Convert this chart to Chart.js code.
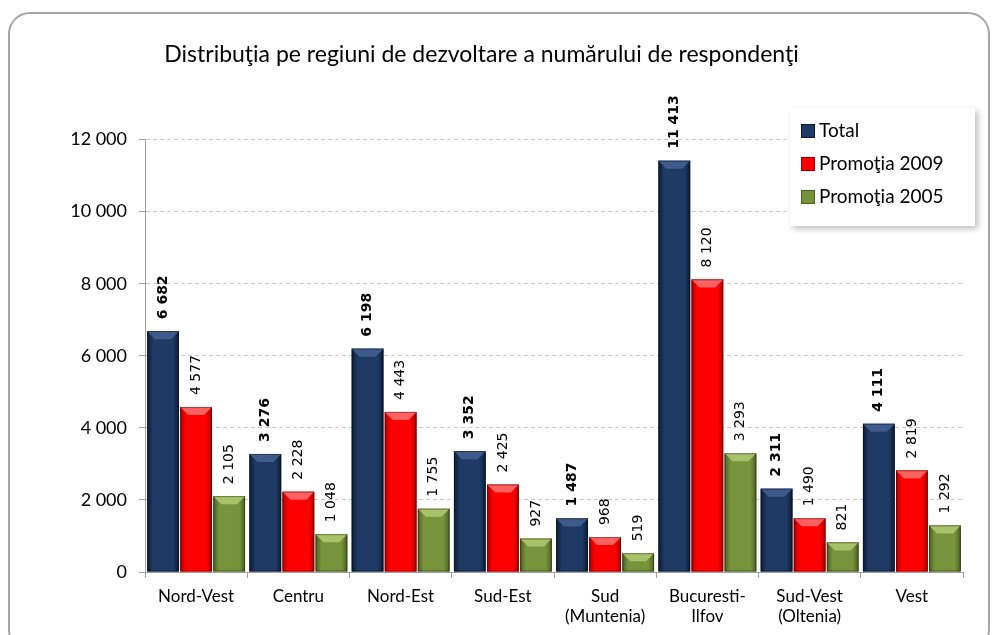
<!DOCTYPE html>
<html>
<head>
<meta charset="utf-8">
<script src="https://cdn.jsdelivr.net/npm/chart.js@4.4.1/dist/chart.umd.min.js"></script>
<style>
  html, body { margin: 0; padding: 0; background: #fff; }
  #card {
    position: absolute; left: 8px; top: 12px; width: 982px; height: 640px;
    border: 2px solid #a6a6a6; border-radius: 22px; box-sizing: border-box;
  }
  #wrap { position: absolute; left: 0; top: 0; width: 992px; height: 635px; }
</style>
</head>
<body>
<div id="card"></div>
<div id="wrap"><canvas id="chart"></canvas></div>
<script>
const categories = [["Nord-Vest"], ["Centru"], ["Nord-Est"], ["Sud-Est"], ["Sud", "(Muntenia)"], ["Bucuresti-", "Ilfov"], ["Sud-Vest", "(Oltenia)"], ["Vest"]];
const seriesNames = ["Total", "Promoţia 2009", "Promoţia 2005"];
const totalValues = [6682, 3276, 6198, 3352, 1487, 11413, 2311, 4111];
const promo2009Values = [4577, 2228, 4443, 2425, 968, 8120, 1490, 2819];
const promo2005Values = [2105, 1048, 1755, 927, 519, 3293, 821, 1292];
const yTicks = [0, 2000, 4000, 6000, 8000, 10000, 12000];

// base, edge (dark), highlight colours per series
const palette = [
    { base: "#1f3a64", edge: "#0c1a33", light: "#3d5c8c" },
    { base: "#ff0000", edge: "#a80000", light: "#ff6060" },
    { base: "#77933c", edge: "#4a5e22", light: "#a8c26a" }
];

function fmt(n) {
    return String(n).replace(/\B(?=(\d{3})+(?!\d))/g, " ");
}

// bevel/gradient look on each bar
const bevelPlugin = {
    id: "bevel",
    afterDatasetsDraw(chart) {
        const ctx = chart.ctx;
        chart.data.datasets.forEach((ds, i) => {
            const meta = chart.getDatasetMeta(i);
            const p = palette[i];
            meta.data.forEach(bar => {
                const w = bar.width, x0 = bar.x - w / 2, top = bar.y, bot = bar.base;
                const g = ctx.createLinearGradient(x0, 0, x0 + w, 0);
                g.addColorStop(0, p.edge);
                g.addColorStop(0.18, p.base);
                g.addColorStop(0.5, p.base);
                g.addColorStop(0.82, p.base);
                g.addColorStop(1, p.edge);
                ctx.save();
                ctx.fillStyle = g;
                ctx.fillRect(x0, top, w, bot - top);
                // top bevel
                const b = Math.min(8, (bot - top) / 2);
                ctx.fillStyle = p.light;
                ctx.beginPath();
                ctx.moveTo(x0, top);
                ctx.lineTo(x0 + w, top);
                ctx.lineTo(x0 + w - b, top + b);
                ctx.lineTo(x0 + b, top + b);
                ctx.closePath();
                ctx.fill();
                ctx.strokeStyle = "rgba(0,0,0,0.35)";
                ctx.lineWidth = 1;
                ctx.strokeRect(x0 + 0.5, top + 0.5, w - 1, bot - top - 1);
                ctx.restore();
            });
        });
    }
};

// vertical value labels above bars
const labelPlugin = {
    id: "valueLabels",
    afterDatasetsDraw(chart) {
        const ctx = chart.ctx;
        chart.data.datasets.forEach((ds, i) => {
            const meta = chart.getDatasetMeta(i);
            meta.data.forEach((bar, j) => {
                ctx.save();
                ctx.translate(bar.x, bar.y - 12);
                ctx.rotate(-Math.PI / 2);
                ctx.font = (i === 0 ? "bold " : "") + "14px 'DejaVu Sans'";
                ctx.fillStyle = "#000";
                ctx.textAlign = "left";
                ctx.textBaseline = "middle";
                ctx.fillText(fmt(ds.data[j]), 0, 0);
                ctx.restore();
            });
        });
    }
};

// legend box in the top right corner of the plot
const legendPlugin = {
    id: "boxLegend",
    afterDraw(chart) {
        const ctx = chart.ctx;
        const x = 790, y = 108, w = 185, h = 118;
        ctx.save();
        ctx.shadowColor = "rgba(0,0,0,0.25)";
        ctx.shadowBlur = 6;
        ctx.shadowOffsetX = 3;
        ctx.shadowOffsetY = 3;
        ctx.fillStyle = "#fff";
        ctx.fillRect(x, y, w, h);
        ctx.restore();
        ctx.save();
        ctx.font = "19px Lato";
        ctx.textBaseline = "middle";
        chart.data.datasets.forEach((ds, i) => {
            const cy = y + 23 + i * 33;
            const p = palette[i];
            ctx.fillStyle = p.base;
            ctx.fillRect(x + 11, cy - 7, 14, 14);
            ctx.strokeStyle = p.edge;
            ctx.strokeRect(x + 11.5, cy - 6.5, 13, 13);
            ctx.fillStyle = "#000";
            ctx.fillText(ds.label, x + 29, cy);
        });
        ctx.restore();
    }
};

new Chart(document.getElementById("chart"), {
    type: "bar",
    data: {
        labels: categories,
        datasets: [
            { label: seriesNames[0], data: totalValues, backgroundColor: palette[0].base },
            { label: seriesNames[1], data: promo2009Values, backgroundColor: palette[1].base },
            { label: seriesNames[2], data: promo2005Values, backgroundColor: palette[2].base }
        ]
    },
    options: {
        responsive: true,
        maintainAspectRatio: false,
        animation: false,
        datasets: { bar: { categoryPercentage: 0.97, barPercentage: 0.96 } },
        layout: { padding: { left: 0, right: 29, top: 0, bottom: 0 } },
        plugins: {
            legend: { display: false },
            tooltip: { enabled: false },
            title: {
                display: true,
                text: "Distribuţia pe regiuni de dezvoltare a numărului de respondenţi",
                color: "#000",
                font: { family: "Lato", size: 23, weight: "normal" },
                padding: { top: 41, bottom: 71 }
            }
        },
        scales: {
            x: {
                grid: { display: true, drawOnChartArea: false, color: "#a0a0a0", tickLength: 6 },
                border: { color: "#a0a0a0" },
                ticks: { color: "#000", font: { family: "Lato", size: 17, lineHeight: 1.2 }, padding: 8, maxRotation: 0 },
                afterFit(s) { s.height = 63; }
            },
            y: {
                min: 0,
                max: 12000,
                afterBuildTicks(s) { s.ticks = yTicks.map(v => ({ value: v })); },
                grid: { color: "#c8c8c8", tickLength: 6, tickColor: "#a0a0a0" },
                border: { color: "#a0a0a0", dash: [4, 3] },
                ticks: { color: "#000", font: { family: "Lato", size: 18 }, padding: 12, callback: v => fmt(v) },
                afterFit(s) { s.width = 145; }
            }
        }
    },
    plugins: [bevelPlugin, labelPlugin, legendPlugin]
});
</script>
</body>
</html>
